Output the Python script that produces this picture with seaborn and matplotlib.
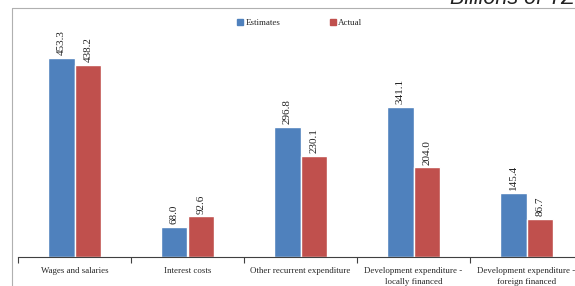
# 1. Imports
import pandas as pd
import matplotlib
matplotlib.use("Agg")
import matplotlib.pyplot as plt
import seaborn as sns
from matplotlib.lines import Line2D

# 2. Datos (billones de TZS)
categorias = [
    "Wages and salaries",
    "Interest costs",
    "Other recurrent expenditure",
    "Development expenditure -\nlocally financed",
    "Development expenditure -\nforeign financed",
]
estimados = [453.3, 68.0, 296.8, 341.1, 145.4]
reales = [438.2, 92.6, 230.1, 204.0, 86.7]
series = ["Estimates", "Actual"]
colores = ["#4F81BD", "#C0504D"]

df = pd.DataFrame({
    "categoria": categorias * 2,
    "serie": [series[0]] * len(categorias) + [series[1]] * len(categorias),
    "valor": estimados + reales,
})

# 3. Figura
sns.set_theme(style="white")
plt.rcParams["font.family"] = ["Liberation Serif", "DejaVu Serif"]

W, H = 575, 286
fig = plt.figure(figsize=(W / 100, H / 100), dpi=100)
ax = fig.add_axes([18 / W, 1 - 257 / H, 565 / W, 249 / H])

sns.barplot(data=df, x="categoria", y="valor", hue="serie", order=categorias,
            hue_order=series, palette=colores, width=0.47, gap=0,
            saturation=1, ax=ax, legend=False)

# etiquetas de valor giradas encima de cada barra
for cont in ax.containers:
    ax.bar_label(cont, fmt="%.1f", rotation=90, padding=2, fontsize=8,
                 color="#222222")

ax.set_xlim(-0.5, len(categorias) - 0.5)
ax.set_ylim(0, 567)
ax.set_xlabel("")
ax.set_ylabel("")
ax.set_yticks([])

# ticks en los limites de cada categoria, etiquetas en el centro
ax.set_xticks([i - 0.5 for i in range(len(categorias) + 1)])
ax.set_xticklabels([])
ax.set_xticks(range(len(categorias)), minor=True)
ax.set_xticklabels(categorias, minor=True, fontsize=6.4, linespacing=1.55)
ax.tick_params(axis="x", which="major", direction="out", length=4, width=0.8,
               color="#404040", bottom=True)
ax.tick_params(axis="x", which="minor", length=0, pad=7)

for lado in ["top", "left", "right"]:
    ax.spines[lado].set_visible(False)
ax.spines["bottom"].set_color("#404040")
ax.spines["bottom"].set_linewidth(0.8)
ax.grid(False)

# leyenda arriba
handles = [Line2D([], [], marker="s", linestyle="", markersize=4, color=c) for c in colores]
fig.legend(handles, series, loc="center", bbox_to_anchor=(300 / W, 1 - 23 / H), ncol=2,
           frameon=False, fontsize=6.5, handlelength=0.6, handletextpad=0.3,
           columnspacing=5.5)

# marco gris (izquierda y arriba)
fig.add_artist(Line2D([12 / W, 12 / W], [0, 1 - 8 / H], color="#B0B0B0", lw=0.8))
fig.add_artist(Line2D([12 / W, 1], [1 - 8 / H, 1 - 8 / H], color="#B0B0B0", lw=0.8))

# unidad, cortada por arriba como en el original
fig.text(450 / W, 1 - 4.5 / H, "Billions of TZS", fontsize=15.5, style="italic",
         family="Liberation Sans", va="baseline", ha="left", color="#222222")

fig.savefig("out.png", dpi=100)
